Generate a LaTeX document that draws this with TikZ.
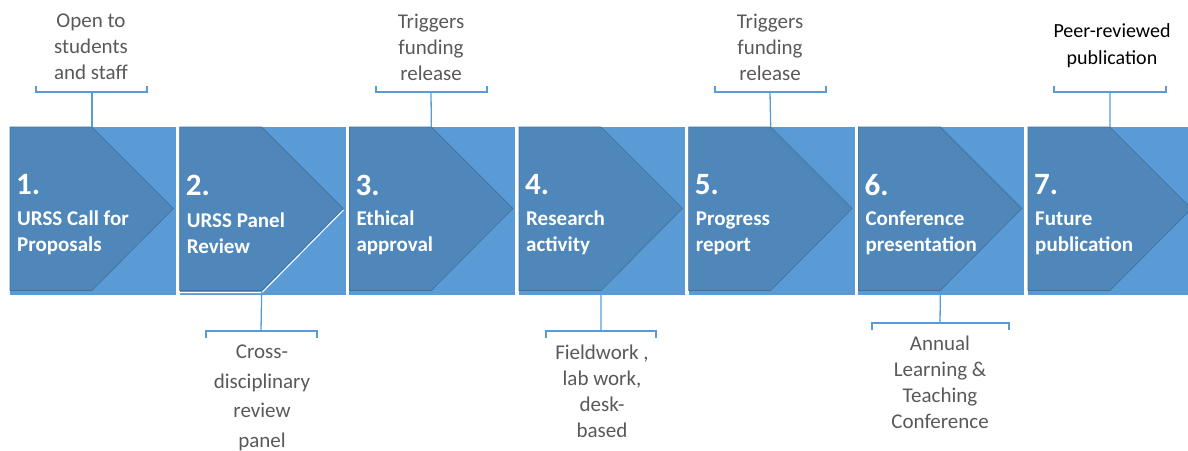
\documentclass[tikz,border=0pt]{standalone}
\usepackage{fontspec}
\setmainfont{Carlito}
\definecolor{lightblue}{HTML}{5B9BD5}
\definecolor{darkblue}{HTML}{4F87BA}
\definecolor{edgeblue}{HTML}{41719C}
\definecolor{graytext}{HTML}{595959}
\begin{document}
\begin{tikzpicture}[x=1pt,y=-1pt,
  backsq/.style={fill=lightblue,draw=none},
  chev/.style={fill=darkblue,draw=edgeblue,line width=0.6pt,line join=miter},
  bracket/.style={draw=lightblue,line width=1.3pt},
  note/.style={font=\fontsize{21}{26}\selectfont,text=graytext,align=center,inner sep=0pt},
  numtxt/.style={font=\fontsize{31}{36}\selectfont\bfseries,text=white,anchor=west,inner sep=0pt},
  steptxt/.style={font=\fontsize{21}{26}\selectfont\bfseries,text=white,anchor=west,align=left,inner sep=0pt}]
\useasboundingbox (0,0) rectangle (1188,450);
\clip (0,0) rectangle (1188,450);
% blocks
\foreach \i/\num/\txt in {0/1./{URSS Call for\\Proposals},1/2./{URSS Panel\\Review},2/3./{Ethical\\approval},3/4./{Research\\activity},4/5./{Progress\\report},5/6./{Conference\\presentation},6/7./{Future\\publication}}{
  \pgfmathsetmacro{\L}{10+169.67*\i}
  \fill[backsq] (\L,127) rectangle (\L+166,294.5);
  \draw[chev] (\L,127) -- (\L+82,127) -- (\L+163.5,208.5) -- (\L+82,290.5) -- (\L,290.5) -- cycle;
  \node[numtxt] (n\i) at (\L+6,185) {\num};
  \node[steptxt] (t\i) at (\L+7,233) {\txt};
  \coordinate (top\i) at (\L+82,127);
  \coordinate (bot\i) at (\L+82,292);
}
% white outline on block 2
\draw[white,line width=1pt] (180,292.5) -- (262,292.5) -- (343.5,210);
% top callouts
\coordinate (c0) at (92,92);
\coordinate (c2) at (431,92);
\coordinate (c4) at (770,92);
\coordinate (c6) at (1110,92);
\draw[bracket] (36,86) -- (36,92) -- (147,92) -- (147,86);
\draw[bracket] (376,86) -- (376,92) -- (487,92) -- (487,86);
\draw[bracket] (715,86) -- (715,92) -- (826,92) -- (826,86);
\draw[bracket] (1054,86) -- (1054,92) -- (1166,92) -- (1166,86);
\draw[bracket] (c0) -- (top0);
\draw[bracket] (c2) -- (top2);
\draw[bracket] (c4) -- (top4);
\draw[bracket] (c6) -- (top6);
\node[note] (a0) at (91,47) {Open to\\students\\and staff};
\node[note] (a2) at (431,47) {Triggers\\funding\\release};
\node[note] (a4) at (770,47) {Triggers\\funding\\release};
\node[note,text=black,font=\fontsize{20}{27}\selectfont] (a6) at (1112,45.5) {Peer-reviewed\\publication};
% bottom callouts
\coordinate (c1) at (261,331);
\coordinate (c3) at (601,331);
\coordinate (c5) at (940,323);
\draw[bracket] (206,338) -- (206,331) -- (317,331) -- (317,338);
\draw[bracket] (546,338) -- (546,331) -- (656,331) -- (656,338);
\draw[bracket] (872,330) -- (872,323) -- (1009,323) -- (1009,330);
\draw[bracket] (bot1) -- (c1);
\draw[bracket] (bot3) -- (c3);
\draw[bracket] (bot5) -- (c5);
\node[note,font=\fontsize{21}{29.5}\selectfont] (a1) at (262,398) {Cross-\\disciplinary\\review\\panel};
\node[note] (a3) at (602,391) {Fieldwork ,\\lab work,\\desk-\\based};
\node[note] (a5) at (940,382) {Annual\\Learning \&\\Teaching\\Conference};
\end{tikzpicture}
\end{document}
